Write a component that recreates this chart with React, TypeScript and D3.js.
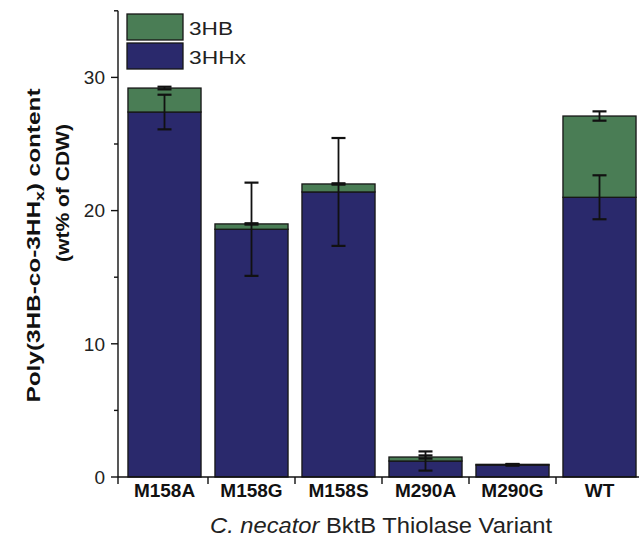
import React from "react";
import * as d3 from "d3";

// Thiolase variants and their PHA composition (wt% of CDW)
const variants = ["M158A", "M158G", "M158S", "M290A", "M290G", "WT"];
const hhxContent = [27.4, 18.6, 21.4, 1.2, 0.9, 21.0];
const hbContent = [1.8, 0.4, 0.6, 0.3, 0.05, 6.1];
const hhxError = [1.3, 3.5, 4.05, 0.72, 0.05, 1.65];
const hbError = [0.1, 0.05, 0.05, 0.12, 0.03, 0.35];
const majorTicks = [0, 10, 20, 30];
const minorTicks = [5, 15, 25, 35];
const seriesNames = ["3HB", "3HHx"];

const WIDTH = 639;
const HEIGHT = 541;
const GREEN = "#4a7d55";
const NAVY = "#2a296c";
const AXIS_X = 118;
const BASE_Y = 477;

export default function App() {
  const y = d3.scaleLinear().domain([0, 35]).range([BASE_Y, BASE_Y - 35 * 13.32]);
  const x = d3.scaleBand<string>().domain(variants).range([121, 643]).padding(0);
  const barW = x.bandwidth() * 0.84;
  const capW = 14;

  const rows = variants.map((v, i) => ({
    v,
    hhx: hhxContent[i],
    hb: hbContent[i],
    hhxErr: hhxError[i],
    hbErr: hbError[i],
  }));

  const stack = d3.stack<any>().keys(["hhx", "hb"])(rows);

  const boundaries = variants.slice(1).map((v) => x(v) as number);

  const errBar = (cx: number, v: number, e: number, key: string) => (
    <g key={key} stroke="#111" strokeWidth={1.8}>
      <line x1={cx} x2={cx} y1={y(v - e)} y2={y(v + e)} />
      <line x1={cx - capW / 2} x2={cx + capW / 2} y1={y(v + e)} y2={y(v + e)} strokeWidth={2.2} />
      <line x1={cx - capW / 2} x2={cx + capW / 2} y1={y(v - e)} y2={y(v - e)} strokeWidth={2.2} />
    </g>
  );

  return (
    <div style={{ position: "absolute", left: 0, top: 0 }}>
      <svg width={WIDTH} height={HEIGHT} style={{ display: "block", background: "#fff" }}
        fontFamily="'Liberation Sans', Arial, sans-serif">
        {/* stacked bars */}
        {stack.map((layer, li) => (
          <g key={layer.key} fill={li === 0 ? NAVY : GREEN} stroke="#161616" strokeWidth={1.3}>
            {layer.map((d, i) => {
              const cx = (x(variants[i]) as number) + x.bandwidth() / 2;
              const top = y(d[1]);
              const bot = y(d[0]);
              return (
                <rect key={i} x={cx - barW / 2} y={top} width={barW} height={Math.max(0, bot - top)} />
              );
            })}
          </g>
        ))}

        {/* error bars */}
        {rows.map((r) => {
          const cx = (x(r.v) as number) + x.bandwidth() / 2;
          return (
            <g key={r.v}>
              {errBar(cx, r.hhx, r.hhxErr, "a")}
              {errBar(cx, r.hhx + r.hb, r.hbErr, "b")}
            </g>
          );
        })}

        {/* y axis */}
        <g stroke="#111" strokeWidth={1.4}>
          <line x1={AXIS_X} x2={AXIS_X} y1={y(35)} y2={BASE_Y + 7} />
          {majorTicks.map((t) => (
            <line key={t} x1={AXIS_X - 7} x2={AXIS_X} y1={y(t)} y2={y(t)} />
          ))}
          {minorTicks.map((t) => (
            <line key={t} x1={AXIS_X - 4} x2={AXIS_X} y1={y(t)} y2={y(t)} />
          ))}
        </g>
        {majorTicks.map((t) => (
          <text key={t} x={AXIS_X - 13} y={y(t)} dy="0.36em" textAnchor="end" fontSize={19} fill="#222">
            {t}
          </text>
        ))}

        {/* x axis */}
        <g stroke="#111" strokeWidth={1.4}>
          <line x1={AXIS_X} x2={WIDTH} y1={BASE_Y} y2={BASE_Y} />
          {boundaries.map((b, i) => (
            <line key={i} x1={b} x2={b} y1={BASE_Y} y2={BASE_Y + 7} />
          ))}
        </g>
        {variants.map((v) => (
          <text key={v} x={(x(v) as number) + x.bandwidth() / 2} y={497} textAnchor="middle"
            fontSize={19} fontWeight="bold" fill="#111">
            {v}
          </text>
        ))}

        {/* x axis title */}
        <text x={210} y={533} fontSize={22} fill="#222" textLength={342} lengthAdjust="spacingAndGlyphs">
          <tspan fontStyle="italic">C. necator</tspan>
          <tspan> BktB Thiolase Variant</tspan>
        </text>

        {/* y axis title */}
        <text transform="translate(40,245.5) rotate(-90)" textAnchor="middle" fontSize={18}
          fontWeight="bold" fill="#111" textLength={314} lengthAdjust="spacingAndGlyphs">
          <tspan>Poly(3HB-co-3HH</tspan>
          <tspan fontSize={13} dy={4}>x</tspan>
          <tspan dy={-4}>) content</tspan>
        </text>
        <text transform="translate(69,193) rotate(-90)" textAnchor="middle" fontSize={18}
          fontWeight="bold" fill="#111" textLength={138} lengthAdjust="spacingAndGlyphs">
          (wt% of CDW)
        </text>

        {/* legend */}
        {seriesNames.map((s, i) => (
          <g key={s}>
            <rect x={127} y={14 + i * 29} width={56} height={26} fill={i === 0 ? GREEN : NAVY}
              stroke="#161616" strokeWidth={1.3} />
            <text x={189} y={35 + i * 28.5} fontSize={18} fill="#222"
              textLength={i === 0 ? 44 : 57} lengthAdjust="spacingAndGlyphs">
              {s}
            </text>
          </g>
        ))}
      </svg>
    </div>
  );
}
